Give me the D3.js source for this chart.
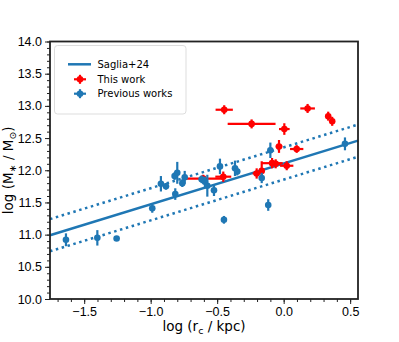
<!DOCTYPE html>
<html>
<head>
<meta charset="utf-8">
<script src="https://cdn.jsdelivr.net/npm/d3@7"></script>
<style>
  body { margin: 0; background: #fff; }
  svg { font-family: "DejaVu Sans", sans-serif; }
</style>
</head>
<body>
<div id="output"></div>
<script>
// previous works (blue)
var prevX    = [-1.637, -1.401, -1.256, -0.988, -0.923, -0.885, -0.815, -0.82, -0.80, -0.762, -0.744,
                -0.617, -0.592, -0.574, -0.524, -0.479, -0.449, -0.366, -0.349, -0.165, -0.116, -0.100, 0.461];
var prevY    = [10.92, 10.95, 10.94, 11.41, 11.79, 11.75, 11.63, 11.91, 11.96, 11.80, 11.89,
                11.86, 11.82, 11.76, 11.69, 12.06, 11.23, 12.03, 11.98, 11.88, 11.46, 12.31, 12.41];
var prevYerr = [0.10, 0.12, 0.02, 0.07, 0.12, 0.05, 0.09, 0.06, 0.17, 0.06, 0.10,
                0.06, 0.08, 0.17, 0.09, 0.12, 0.06, 0.12, 0.06, 0.08, 0.09, 0.12, 0.10];

// this work (red)
var workX    = [-0.447, -0.241, 0.005, 0.18, 0.335, 0.365, -0.035, 0.098, -0.087, -0.06, 0.023, -0.165, -0.203, -0.454, -0.605];
var workY    = [12.94, 12.72, 12.64, 12.96, 12.84, 12.76, 12.37, 12.33, 12.11, 12.10, 12.07, 11.99, 11.95, 11.90, 11.87];
var workXerr = [0.065, 0.18, 0.04, 0.055, 0.015, 0.015, 0.025, 0.05, 0.08, 0.04, 0.05, 0.02, 0.03, 0.06, 0.15];
var workYerr = [0.07, 0.07, 0.09, 0.07, 0.07, 0.07, 0.10, 0.06, 0.08, 0.07, 0.07, 0.15, 0.08, 0.08, 0.06];

// Saglia+24 relation
var fitSlope = 0.634,
  fitIntercept = 12.105,
  fitScatter = 0.25;

var xTicks = [-1.5, -1.0, -0.5, 0.0, 0.5];
var yTicks = [10.0, 10.5, 11.0, 11.5, 12.0, 12.5, 13.0, 13.5, 14.0];
var legendLabels = ["Saglia+24", "This work", "Previous works"];

var blue = "#1f77b4", red = "#ff0000";

var width = 399, height = 342,
  pLeft = 50, pRight = 358, pTop = 41.5, pBottom = 299;

var svg = d3.select('#output')
  .append('svg')
  .attr('width', width)
  .attr('height', height);

var x = d3.scaleLinear().domain([-1.757, 0.559]).range([pLeft, pRight]);
var y = d3.scaleLinear().domain([10, 14]).range([pBottom, pTop]);

var plot = svg.append('g');

// fit line and scatter
var xs = x.domain();
[0, fitScatter, -fitScatter].forEach(function (off) {
  plot.append('line')
    .attr('x1', x(xs[0])).attr('y1', y(fitIntercept + fitSlope * xs[0] + off))
    .attr('x2', x(xs[1])).attr('y2', y(fitIntercept + fitSlope * xs[1] + off))
    .attr('stroke', blue)
    .attr('stroke-width', 2.5)
    .attr('stroke-dasharray', off === 0 ? null : '2.5,3.6');
});

function errorbars(xv, yv, xe, ye, color) {
  var g = plot.append('g');
  var data = xv.map(function (d, i) { return { x: d, y: yv[i], xe: xe ? xe[i] : 0, ye: ye[i] }; });
  g.selectAll('.xe').data(data.filter(function (d) { return d.xe > 0; })).enter()
    .append('line')
    .attr('x1', function (d) { return x(d.x - d.xe); })
    .attr('x2', function (d) { return x(d.x + d.xe); })
    .attr('y1', function (d) { return y(d.y); })
    .attr('y2', function (d) { return y(d.y); })
    .attr('stroke', color).attr('stroke-width', 2.2);
  g.selectAll('.ye').data(data).enter()
    .append('line')
    .attr('x1', function (d) { return x(d.x); })
    .attr('x2', function (d) { return x(d.x); })
    .attr('y1', function (d) { return y(d.y - d.ye); })
    .attr('y2', function (d) { return y(d.y + d.ye); })
    .attr('stroke', color).attr('stroke-width', 2.2);
  g.selectAll('circle').data(data).enter()
    .append('circle')
    .attr('cx', function (d) { return x(d.x); })
    .attr('cy', function (d) { return y(d.y); })
    .attr('r', 3.3)
    .attr('fill', color);
}

errorbars(workX, workY, workXerr, workYerr, red);
errorbars(prevX, prevY, null, prevYerr, blue);

// axes
var xAxis = d3.axisBottom(x).tickValues(xTicks).tickFormat(d3.format('.1f')).tickSize(5).tickPadding(3);
var yAxis = d3.axisLeft(y).tickValues(yTicks).tickFormat(d3.format('.1f')).tickSize(5).tickPadding(3);
var xMinor = d3.axisBottom(x).tickValues(d3.range(-17, 6).map(function (d) { return d / 10; })).tickFormat('').tickSize(3);
var yMinor = d3.axisLeft(y).tickValues(d3.range(100, 141).map(function (d) { return d / 10; })).tickFormat('').tickSize(3);

function styleAxis(g) {
  g.select('.domain').remove();
  g.selectAll('.tick line').attr('stroke', '#222').attr('stroke-width', 1);
  g.selectAll('.tick text').attr('fill', '#000').style('font-size', '12.5px');
}

svg.append('g').attr('transform', 'translate(0,' + pBottom + ')').call(xMinor).call(styleAxis);
svg.append('g').attr('transform', 'translate(' + pLeft + ',0)').call(yMinor).call(styleAxis);
svg.append('g').attr('transform', 'translate(0,' + pBottom + ')').call(xAxis).call(styleAxis);
svg.append('g').attr('transform', 'translate(' + pLeft + ',0)').call(yAxis).call(styleAxis);

// frame
svg.append('rect')
  .attr('x', pLeft).attr('y', pTop)
  .attr('width', pRight - pLeft).attr('height', pBottom - pTop)
  .attr('fill', 'none')
  .attr('stroke', '#222')
  .attr('stroke-width', 1.8);

// axis labels
var xl = svg.append('text')
  .attr('x', (pLeft + pRight) / 2).attr('y', 331)
  .attr('text-anchor', 'middle')
  .style('font-size', '13.5px');
xl.append('tspan').text('log (r');
xl.append('tspan').attr('baseline-shift', '-25%').style('font-size', '9.5px').text('c');
xl.append('tspan').text(' / kpc)');

var yl = svg.append('text')
  .attr('transform', 'translate(13,' + (pTop + pBottom) / 2 + ') rotate(-90)')
  .attr('text-anchor', 'middle')
  .style('font-size', '13.5px');
yl.append('tspan').text('log (M');
yl.append('tspan').attr('baseline-shift', '-25%').style('font-size', '9.5px').text('∗');
yl.append('tspan').text(' / M');
yl.append('tspan').attr('baseline-shift', '-25%').style('font-size', '9.5px').text('⊙');
yl.append('tspan').text(')');

// legend
var lg = svg.append('g');
lg.append('rect')
  .attr('x', 54.5).attr('y', 45.5)
  .attr('width', 131.5).attr('height', 68.5)
  .attr('rx', 3)
  .attr('fill', '#fff').attr('fill-opacity', 0.8)
  .attr('stroke', '#ddd');
var ly = [64.3, 79.3, 93.7];
lg.append('line')
  .attr('x1', 68).attr('x2', 91)
  .attr('y1', ly[0]).attr('y2', ly[0])
  .attr('stroke', blue).attr('stroke-width', 2.5);
[[ly[1], red], [ly[2], blue]].forEach(function (d) {
  lg.append('line').attr('x1', 74).attr('x2', 86).attr('y1', d[0]).attr('y2', d[0])
    .attr('stroke', d[1]).attr('stroke-width', 2.2);
  lg.append('line').attr('x1', 80).attr('x2', 80).attr('y1', d[0] - 4.5).attr('y2', d[0] + 4.5)
    .attr('stroke', d[1]).attr('stroke-width', 2.2);
  lg.append('circle').attr('cx', 80).attr('cy', d[0]).attr('r', 3.3).attr('fill', d[1]);
});
lg.selectAll('.lab').data(legendLabels).enter()
  .append('text')
  .attr('x', 97.5)
  .attr('y', function (d, i) { return ly[i] + 3.6; })
  .style('font-size', '10px')
  .text(function (d) { return d; });
</script>
</body>
</html>
